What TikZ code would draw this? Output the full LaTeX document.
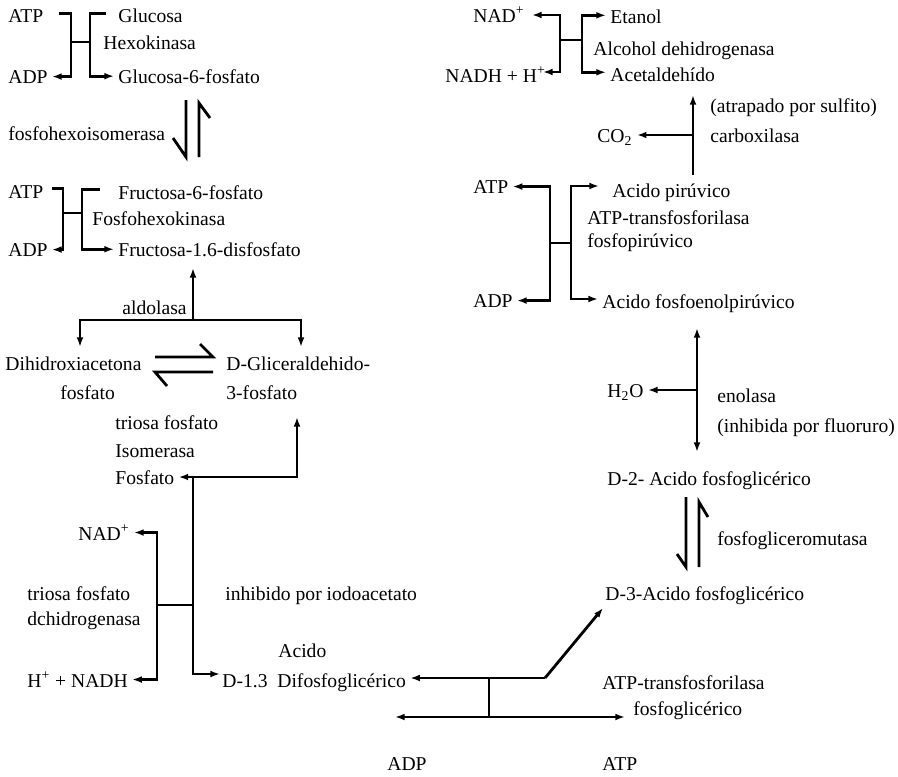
\documentclass[tikz,border=0pt]{standalone}
\usepackage{fontspec}
\setmainfont{Liberation Serif}
\usetikzlibrary{arrows.meta,calc}
\begin{document}
\begin{tikzpicture}[x=0.5pt,y=-0.5pt,
  txt/.style={font=\fontsize{9.8}{12}\selectfont, inner sep=2pt, anchor=base west},
  ln/.style={line width=1.4pt, line join=miter},
  arr/.style={ln,-{Latex[length=4.8pt,width=3.4pt]}},
  darr/.style={ln,{Latex[length=4.8pt,width=3.4pt]}-{Latex[length=4.8pt,width=3.4pt]}}]
\useasboundingbox (0,0) rectangle (898,776);

% ---------- texts, left column ----------
\node[txt] (atpA) at (4,22) {ATP};
\node[txt] (adpA) at (4,83) {ADP};
\node[txt] (glc) at (114,22) {Glucosa};
\node[txt] (hex) at (99,49) {Hexokinasa};
\node[txt] (g6p) at (114,83) {Glucosa-6-fosfato};
\node[txt] (isom) at (4,140) {fosfohexoisomerasa};
\node[txt] (atpB) at (4,198) {ATP};
\node[txt] (adpB) at (4,256) {ADP};
\node[txt] (f6p) at (114,199) {Fructosa-6-fosfato};
\node[txt] (fhk) at (88,225) {Fosfohexokinasa};
\node[txt] (f16) at (114,256) {Fructosa-1.6-disfosfato};
\node[txt] (aldo) at (118,314) {aldolasa};
\node[txt] (dhapa) at (1,370) {Dihidroxiacetona};
\node[txt] (dhapb) at (56,399) {fosfato};
\node[txt] (gapa) at (222,370) {D-Gliceraldehido-};
\node[txt] (gapb) at (222,399) {3-fosfato};
\node[txt] (tpia) at (111,429) {triosa fosfato};
\node[txt] (tpib) at (111,457) {Isomerasa};
\node[txt] (fos) at (111,484) {Fosfato};
\node[txt] (nadL) at (74,540) {NAD\textsuperscript{+}};
\node[txt] (tpda) at (23,600) {triosa fosfato};
\node[txt] (tpdb) at (23,625) {dchidrogenasa};
\node[txt] (nadhL) at (23,687) {H\textsuperscript{+} + NADH};
\node[txt] (iodo) at (221,600) {inhibido por iodoacetato};
\node[txt] (acido) at (274,657) {Acido};
\node[txt] (dpg) at (218,687) {D-1.3\enspace Difosfoglicérico};
\node[txt] (adpC) at (383,770) {ADP};

% ---------- texts, right column ----------
\node[txt] (nadR) at (469,22) {NAD\textsuperscript{+}};
\node[txt] (nadhR) at (441,82) {NADH + H\textsuperscript{+}};
\node[txt] (etoh) at (606,24) {Etanol};
\node[txt] (adh) at (589,55) {Alcohol dehidrogenasa};
\node[txt] (acet) at (606,81) {Acetaldehído};
\node[txt] (co2) at (593,142) {CO\textsubscript{2}};
\node[txt] (atrap) at (706,112) {(atrapado por sulfito)};
\node[txt] (carb) at (706,142) {carboxilasa};
\node[txt] (atpR) at (469,193) {ATP};
\node[txt] (pyr) at (608,197) {Acido pirúvico};
\node[txt] (pka) at (583,224) {ATP-transfosforilasa};
\node[txt] (pkb) at (583,247) {fosfopirúvico};
\node[txt] (adpR) at (469,307) {ADP};
\node[txt] (pep) at (598,308) {Acido fosfoenolpirúvico};
\node[txt] (h2o) at (603,397) {H\textsubscript{2}O};
\node[txt] (enola) at (713,402) {enolasa};
\node[txt] (enolb) at (713,432) {(inhibida por fluoruro)};
\node[txt] (pg2) at (603,485) {D-2- Acido fosfoglicérico};
\node[txt] (mut) at (713,545) {fosfogliceromutasa};
\node[txt] (pg3) at (601,600) {D-3-Acido fosfoglicérico};
\node[txt] (pgka) at (598,689) {ATP-transfosforilasa};
\node[txt] (pgkb) at (629,715) {fosfoglicérico};
\node[txt] (atpC) at (598,770) {ATP};

% ---------- hexokinasa ----------
\coordinate (hA) at (71,42);
\coordinate (hB) at (90,42);
\draw[ln] (hA) -- (hB);
\draw[arr] ($(atpA.east)+(11,-2)$) -| (hA) |- (adpA.east);
\draw[arr] ($(glc.west)+(-8,-2)$) -| (hB) |- (g6p.west);

% ---------- fosfohexoisomerasa ----------
\draw[ln] (186,100) -- (186,157) -- (173,138);
\draw[ln] (199,157) -- (199,103) -- (210,118);

% ---------- fosfohexokinasa ----------
\coordinate (kA) at (63,213);
\coordinate (kB) at (82,213);
\draw[ln] (kA) -- (kB);
\draw[arr] ($(atpB.east)+(4,-3)$) -| (kA) |- (adpB.east);
\draw[arr] ($(f6p.west)+(-14,-3)$) -| (kB) |- (f16.west);

% ---------- aldolasa ----------
\coordinate (al) at (193,320);
\coordinate (alT) at (193,268);
\coordinate (dN) at (80,347);
\coordinate (gN) at (301,347);
\draw[arr] (al) -- (alT);
\draw[arr] (al) -| (dN);
\draw[arr] (al) -| (gN);

% ---------- triosa fosfato isomerasa ----------
\draw[ln] (155,357) -- (213,357) -- (200,344);
\draw[ln] (213,372) -- (155,372) -- (167,386);

% ---------- Fosfato junction ----------
\coordinate (tj) at (193,477);
\coordinate (gS) at (297,417);
\coordinate (dW) at (220,674);
\draw[arr] (tj) -- (tj -| fos.east);
\draw[arr] (tj) -| (gS);
\draw[arr] (tj) |- (dW);

% ---------- triosa fosfato dehidrogenasa ----------
\coordinate (nj) at (157,605);
\coordinate (nj2) at (193,605);
\draw[ln] (nj) -- (nj2);
\draw[arr] (nj) |- (nadL.east);
\draw[arr] (nj) |- (nadhL.east);

% ---------- fosfoglicerato kinasa ----------
\coordinate (k1) at (545,678);
\coordinate (kv) at (489,678);
\coordinate (kv2) at (489,717);
\coordinate (kL) at (395,717);
\coordinate (kR) at (625,717);
\coordinate (k3) at (603,608);
\draw[arr] (k1) -- (k1 -| dpg.east);
\draw[arr] (k1) -- (k3);
\draw[ln] (kv) -- (kv2);
\draw[darr] (kL) -- (kR);

% ---------- fosfogliceromutasa ----------
\draw[ln] (686,497) -- (686,567) -- (677,554);
\draw[ln] (699,567) -- (699,502) -- (708,517);

% ---------- enolasa ----------
\coordinate (ej) at (697,390);
\coordinate (et) at (697,328);
\coordinate (eb) at (697,452);
\draw[darr] (et) -- (eb);
\draw[arr] (ej) -- (ej -| h2o.east);

% ---------- piruvato kinasa ----------
\coordinate (pj) at (550,243);
\coordinate (pj2) at (571,243);
\coordinate (pyrA) at (599,186);
\coordinate (pepA) at (598,299);
\draw[ln] (pj) -- (pj2);
\draw[arr] (pj) |- (atpR.east);
\draw[arr] (pj) |- (adpR.east);
\draw[arr] (pj2) |- (pyrA);
\draw[arr] (pj2) |- (pepA);

% ---------- carboxilasa ----------
\coordinate (cb) at (693,175);
\coordinate (ct) at (693,95);
\coordinate (cj) at (693,135);
\draw[arr] (cb) -- (ct);
\draw[arr] (cj) -- (cj -| co2.east);

% ---------- alcohol dehidrogenasa ----------
\coordinate (aj) at (560,40);
\coordinate (aj2) at (582,40);
\coordinate (nadRa) at (532,15);
\coordinate (nadhRa) at (543,72);
\draw[ln] (aj) -- (aj2);
\draw[arr] (aj) |- (nadRa);
\draw[arr] (aj) |- (nadhRa);
\draw[arr] (aj2) |- ($(etoh.west)+(0,-2)$);
\draw[arr] (aj2) |- ($(acet.west)+(0,-2)$);
\end{tikzpicture}
\end{document}
